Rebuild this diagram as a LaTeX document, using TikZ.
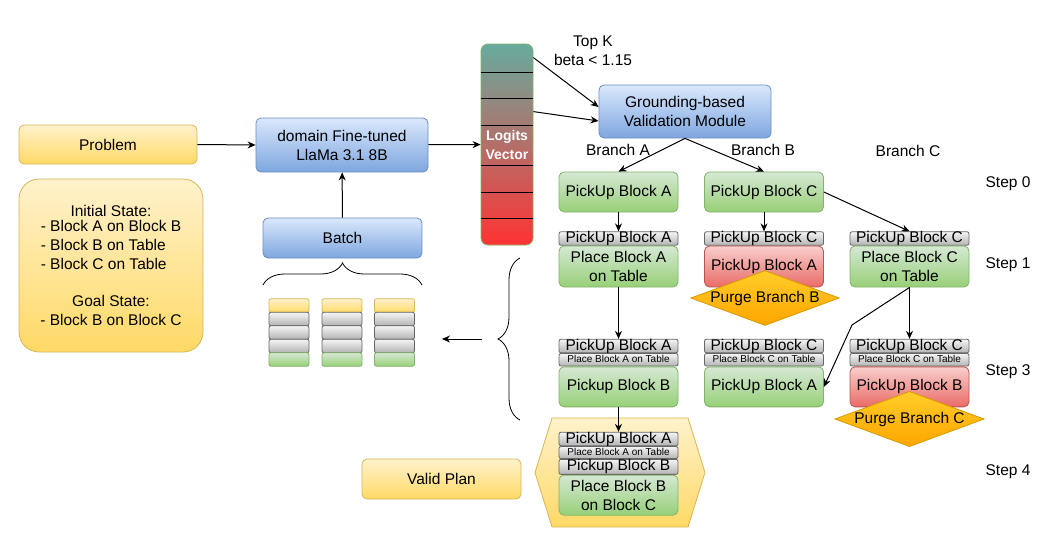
\documentclass[tikz,border=0pt]{standalone}
\usepackage{fontspec}
\setmainfont{Liberation Sans}
\usepackage{tikz}
\usetikzlibrary{positioning}
\usetikzlibrary{shapes.geometric}
\usetikzlibrary{arrows.meta}
\usetikzlibrary{decorations.pathreplacing}

\definecolor{yelTop}{HTML}{FFF2CC}
\definecolor{yelBot}{HTML}{FFD966}
\definecolor{yelLine}{HTML}{D6B656}
\definecolor{bluTop}{HTML}{DAE8FC}
\definecolor{bluBot}{HTML}{7EA6E0}
\definecolor{bluLine}{HTML}{6C8EBF}
\definecolor{grnTop}{HTML}{D5E8D4}
\definecolor{grnBot}{HTML}{97D077}
\definecolor{grnLine}{HTML}{82B366}
\definecolor{redTop}{HTML}{F8CECC}
\definecolor{redBot}{HTML}{EA6B66}
\definecolor{redLine}{HTML}{B85450}
\definecolor{gryTop}{HTML}{F5F5F5}
\definecolor{gryBot}{HTML}{B3B3B3}
\definecolor{gryLine}{HTML}{666666}
\definecolor{orgTop}{HTML}{FFCD28}
\definecolor{orgBot}{HTML}{FFA500}
\definecolor{orgLine}{HTML}{D79B00}
\definecolor{logTop}{HTML}{67AB9F}
\definecolor{logBot}{HTML}{FF3333}

\tikzset{
  box/.style={draw, line width=0.8pt, rounded corners=5pt, inner sep=0pt, align=center},
  yelbox/.style={box, draw=yelLine, top color=yelTop, bottom color=yelBot},
  blubox/.style={box, draw=bluLine, top color=bluTop, bottom color=bluBot},
  grnbox/.style={box, draw=grnLine, top color=grnTop, bottom color=grnBot, minimum width=119pt, minimum height=40pt},
  redbox/.style={box, draw=redLine, top color=redTop, bottom color=redBot, minimum width=119pt, minimum height=40pt},
  head/.style={box, draw=gryLine, top color=gryTop, bottom color=gryBot, rounded corners=2pt,
    minimum width=119pt, minimum height=13.5pt, text height=10.5pt, text depth=2.5pt},
  subhead/.style={head, font=\fontsize{10}{12}\selectfont, minimum height=12.5pt, text height=7.5pt, text depth=2pt},
  purge/.style={diamond, draw=orgLine, line width=0.8pt, top color=orgTop, bottom color=orgBot,
    inner sep=0pt, aspect=2.7},
  cell/.style={box, rounded corners=2pt, minimum width=40pt, minimum height=13.5pt},
  cellY/.style={cell, draw=yelLine, top color=yelTop, bottom color=yelBot},
  cellG/.style={cell, draw=gryLine, top color=gryTop, bottom color=gryBot},
  cellN/.style={cell, draw=grnLine, top color=grnTop, bottom color=grnBot},
  conn/.style={->, line width=1pt, black},
}

\begin{document}
\begin{tikzpicture}[x=1pt, y=-1pt, font=\fontsize{15.5}{19}\selectfont,
    >={Stealth[length=8pt,width=7pt]}]
    \useasboundingbox (0,0) rectangle (1047,538);

    % input side
    \node[yelbox, minimum width=178pt, minimum height=39pt] (problem) at (108,144.5) {Problem};
    \node[yelbox, rounded corners=20pt, minimum width=184pt, minimum height=173pt] (state) at (111,265.5)
        {Initial State:\\\begin{tabular}{@{}l@{}}- Block A on Block B\\- Block B on Table\\- Block C on Table\end{tabular}\\[19pt]
         Goal State:\\- Block B on Block C};

    \node[blubox, minimum width=172pt, minimum height=54pt] (llama) at (342,145) {domain Fine-tuned\\LlaMa 3.1 8B};
    \node[blubox, minimum width=159pt, minimum height=40pt] (batch) at (342.5,238) {Batch};
    \node[box, draw=grnLine, top color=logTop, bottom color=logBot, rounded corners=7pt,
          minimum width=52pt, minimum height=201pt, text=white, font=\fontsize{14}{19}\selectfont\bfseries]
          (logits) at (507,144.5) {Logits\\Vector};
    \foreach \y in {72,98,125,165,192,218} {
        \draw[line width=0.8pt] (logits.west |- 0,\y) -- (logits.east |- 0,\y);
    }
    \node[blubox, minimum width=172pt, minimum height=53pt] (ground) at (685,111.5) {Grounding-based\\Validation Module};
    \node[align=center] (topk) at (593,51) {Top K\\beta < 1.15};
    \node[yelbox, minimum width=159pt, minimum height=40pt] (valid) at (441.5,479) {Valid Plan};

    % batch
    \foreach \c/\x in {1/289,2/342,3/394.5} {
        \foreach \r/\y/\s in {1/305.5/cellY,2/319/cellG,3/332.5/cellG,4/346/cellG,5/359.5/cellN} {
            \node[\s] (cell\c\r) at (\x,\y) {};
        }
    }
    \coordinate (bbL) at (263,285);
    \coordinate (bbR) at (422,285);
    \draw[line width=0.8pt, decorate, decoration={brace, amplitude=22pt}] (bbL) -- (bbR);
    \coordinate (bigB) at (520,420);
    \coordinate (bigT) at (520,258);
    \draw[line width=0.8pt, decorate, decoration={brace, amplitude=22pt}] (bigB) -- (bigT);
    \coordinate (backR) at (482,339);
    \coordinate (backL) at (442,339);
    \draw[conn] (backR) -- (backL);

    % labels
    \node (brA) at (618,150) {Branch A};
    \node (brB) at (763,150) {Branch B};
    \node (brC) at (908,151) {Branch C};
    \node (step0) at (1008,184) {Step 0};
    \node (step1) at (1008,265) {Step 1};
    \node (step3) at (1008,372) {Step 3};
    \node (step4) at (1008,472) {Step 4};

    % step 0
    \node[grnbox] (pickA) at (618.5,192) {PickUp Block A};
    \node[grnbox] (pickC) at (764,192) {PickUp Block C};

    % step 1
    \node[head] (headA1) at (618.5,238.5) {PickUp Block A};
    \node[grnbox, minimum height=41pt, below=0pt of headA1] (placeA) {Place Block A\\on Table};
    \node[head] (headB1) at (764,238.5) {PickUp Block C};
    \node[redbox, minimum height=41pt, below=0pt of headB1] (pickB1) {PickUp Block A};
    \node[purge] (purgeB) at (765,298) {Purge Branch B};
    \node[head] (headC1) at (909.5,238.5) {PickUp Block C};
    \node[grnbox, minimum height=41pt, below=0pt of headC1] (placeC) {Place Block C\\on Table};

    % step 3
    \node[head] (headA3) at (618.5,346) {PickUp Block A};
    \node[subhead, below=0pt of headA3] (subA3) {Place Block A on Table};
    \node[grnbox, below=0pt of subA3] (pickA3) {Pickup Block B};
    \node[head] (headB3) at (764,346) {PickUp Block C};
    \node[subhead, below=0pt of headB3] (subB3) {Place Block C on Table};
    \node[grnbox, below=0pt of subB3] (pickB3) {PickUp Block A};
    \node[head] (headC3) at (909.5,346) {PickUp Block C};
    \node[subhead, below=0pt of headC3] (subC3) {Place Block C on Table};
    \node[redbox, below=0pt of subC3] (pickC3) {PickUp Block B};
    \node[purge] (purgeC) at (909.5,419) {Purge Branch C};

    % step 4
    \draw[line width=0.8pt, draw=yelLine, top color=yelTop, bottom color=yelBot]
        (552,418) -- (688,418) -- (705,472.5) -- (688,527) -- (552,527) -- (535,472.5) -- cycle;
    \node[head] (headA4) at (618.5,439) {PickUp Block A};
    \node[subhead, minimum height=12pt, below=0pt of headA4] (subA4) {Place Block A on Table};
    \node[head, minimum height=15pt, below=0pt of subA4] (headB4) {Pickup Block B};
    \node[grnbox, below=0pt of headB4] (placeB4) {Place Block B\\on Block C};

    % connectors
    \coordinate (bendC) at (852,325);
    \draw[conn] (problem.east) -- (llama.west);
    \draw[conn] (batch) -- (llama);
    \draw[conn] (llama) -- (logits);
    \draw[conn] ([yshift=-14pt]logits.north east) -- ([yshift=4.5pt]ground.west);
    \draw[conn] ([yshift=-68pt]logits.north east) -- ([yshift=-9.5pt]ground.west);
    \draw[conn] (ground.south) -- (pickA.north);
    \draw[conn] (ground.south) -- (pickC.north);
    \draw[conn] (pickA) -- (headA1);
    \draw[conn] (pickC) -- (headB1);
    \draw[conn] (pickC.east) -- (headC1.north);
    \draw[conn] (placeA) -- (headA3);
    \draw[conn] (placeC) -- (headC3);
    \draw[conn] (placeC.south) -- (bendC) -- (pickB3.east);
    \draw[conn] (pickA3) -- (headA4);
\end{tikzpicture}
\end{document}
